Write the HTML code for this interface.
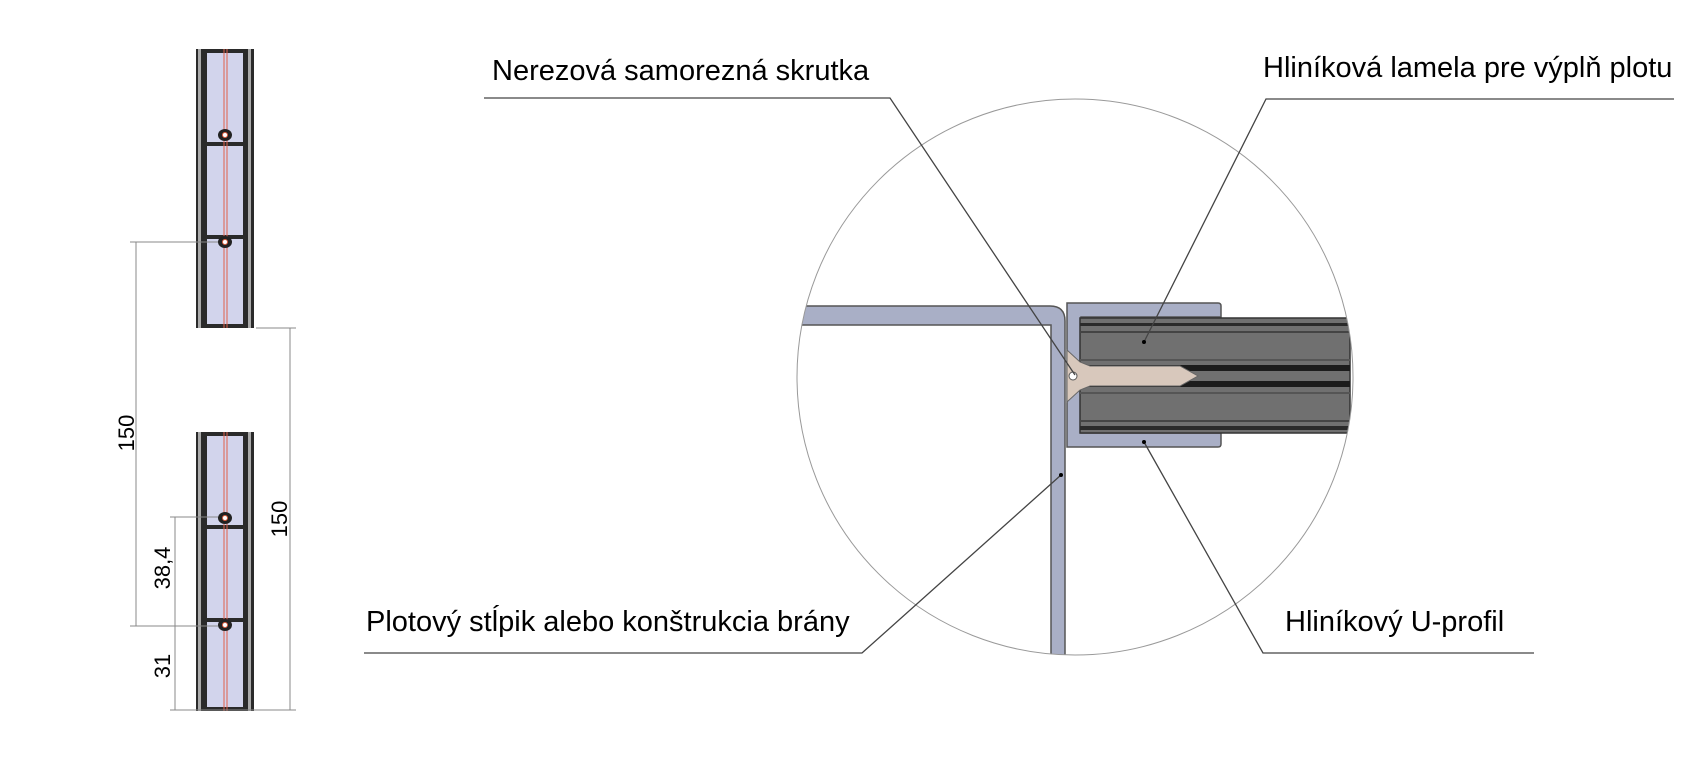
<!DOCTYPE html>
<html><head><meta charset="utf-8"><style>
html,body{margin:0;padding:0;background:#fff;}
svg{display:block;}
text{font-family:"Liberation Sans",Arial,sans-serif;fill:#000;}
</style></head><body>
<svg width="1703" height="762" viewBox="0 0 1703 762" xmlns="http://www.w3.org/2000/svg">
<defs>
<clipPath id="cc"><circle cx="1075" cy="377" r="278"/></clipPath>
<g id="col">
  <rect x="196" y="0" width="58" height="279" fill="#2a2a2a"/>
  <rect x="198" y="0" width="3" height="279" fill="#aaa"/>
  <rect x="248" y="0" width="3" height="279" fill="#aaa"/>
  <rect x="207" y="4" width="36" height="89" fill="#d2d4ec"/>
  <rect x="207" y="97" width="36" height="89" fill="#d2d4ec"/>
  <rect x="207" y="190" width="36" height="85" fill="#d2d4ec"/>
  <line x1="224" y1="0" x2="224" y2="279" stroke="#e0604a" stroke-width="1"/>
  <line x1="227" y1="0" x2="227" y2="279" stroke="#e0604a" stroke-width="1"/>
  <ellipse cx="225" cy="86" rx="7" ry="6" fill="#222"/><circle cx="225" cy="86" r="2.5" fill="#fff" stroke="#e06040"/>
  <ellipse cx="225" cy="193" rx="7" ry="6" fill="#222"/><circle cx="225" cy="193" r="2.5" fill="#fff" stroke="#e06040"/>
</g>
</defs>

<use href="#col" y="49"/>
<use href="#col" y="432"/>

<g stroke="#888" stroke-width="1" fill="none">
  <line x1="130" y1="242" x2="218" y2="242"/>
  <line x1="136" y1="242" x2="136" y2="626"/>
  <line x1="130" y1="626" x2="218" y2="626"/>
  <line x1="256" y1="328" x2="296" y2="328"/>
  <line x1="290" y1="328" x2="290" y2="710"/>
  <line x1="170" y1="710" x2="296" y2="710"/>
  <line x1="170" y1="517" x2="218" y2="517"/>
  <line x1="175" y1="517" x2="175" y2="710"/>
</g>
<text transform="translate(134,433) rotate(-90)" font-size="22" text-anchor="middle">150</text>
<text transform="translate(287,519) rotate(-90)" font-size="22" text-anchor="middle">150</text>
<text transform="translate(170,568) rotate(-90)" font-size="22" text-anchor="middle">38,4</text>
<text transform="translate(170,666) rotate(-90)" font-size="22" text-anchor="middle">31</text>

<g clip-path="url(#cc)">
  <path d="M790,306 H1050 Q1065,306 1065,321 V660 H1051 V325 H790 Z" fill="#a9afc6" stroke="#555" stroke-width="1.5"/>
  <path d="M1067,303 H1218 Q1221,303 1221,306 V317 H1081 V433 H1221 V444 Q1221,447 1218,447 H1067 Z" fill="#a9afc6" stroke="#555" stroke-width="1.5"/>
  <rect x="1080" y="318" width="270" height="115" fill="#707070" stroke="#333" stroke-width="1.5"/>
  <rect x="1080" y="323" width="270" height="3" fill="#2a2a2a"/>
  <rect x="1080" y="331" width="270" height="2" fill="#444"/>
  <rect x="1080" y="359" width="270" height="2" fill="#555"/>
  <rect x="1080" y="365" width="270" height="6" fill="#1c1c1c"/>
  <rect x="1080" y="381" width="270" height="6" fill="#1c1c1c"/>
  <rect x="1080" y="392" width="270" height="2" fill="#555"/>
  <rect x="1080" y="420" width="270" height="2" fill="#444"/>
  <rect x="1080" y="426" width="270" height="4" fill="#2a2a2a"/>
  <path d="M1067,350 L1080,362 L1090,366 L1180,366 L1198,376 L1180,386 L1090,386 L1080,390 L1067,402 Z" fill="#d8c8bc" stroke="#666" stroke-width="1"/>
  <circle cx="1073" cy="376" r="4" fill="#fff" stroke="#555"/>
</g>
<circle cx="1075" cy="377" r="278" fill="none" stroke="#999" stroke-width="1"/>

<g stroke="#444" stroke-width="1.3" fill="none">
  <polyline points="484,98 890,98 1075,375"/>
  <polyline points="1674,99 1266,99 1144,342"/>
  <polyline points="364,653 862,653 1061,475"/>
  <polyline points="1534,653 1263,653 1144,442"/>
</g>
<circle cx="1144" cy="342" r="2" fill="#000"/>
<circle cx="1061" cy="475" r="2" fill="#000"/>
<circle cx="1144" cy="442" r="2" fill="#000"/>

<text x="492" y="80" font-size="29">Nerezová samorezná skrutka</text>
<text x="1263" y="77" font-size="29">Hliníková lamela pre výplň plotu</text>
<text x="366" y="631" font-size="29">Plotový stĺpik alebo konštrukcia brány</text>
<text x="1285" y="631" font-size="29">Hliníkový U-profil</text>
</svg>
</body></html>
